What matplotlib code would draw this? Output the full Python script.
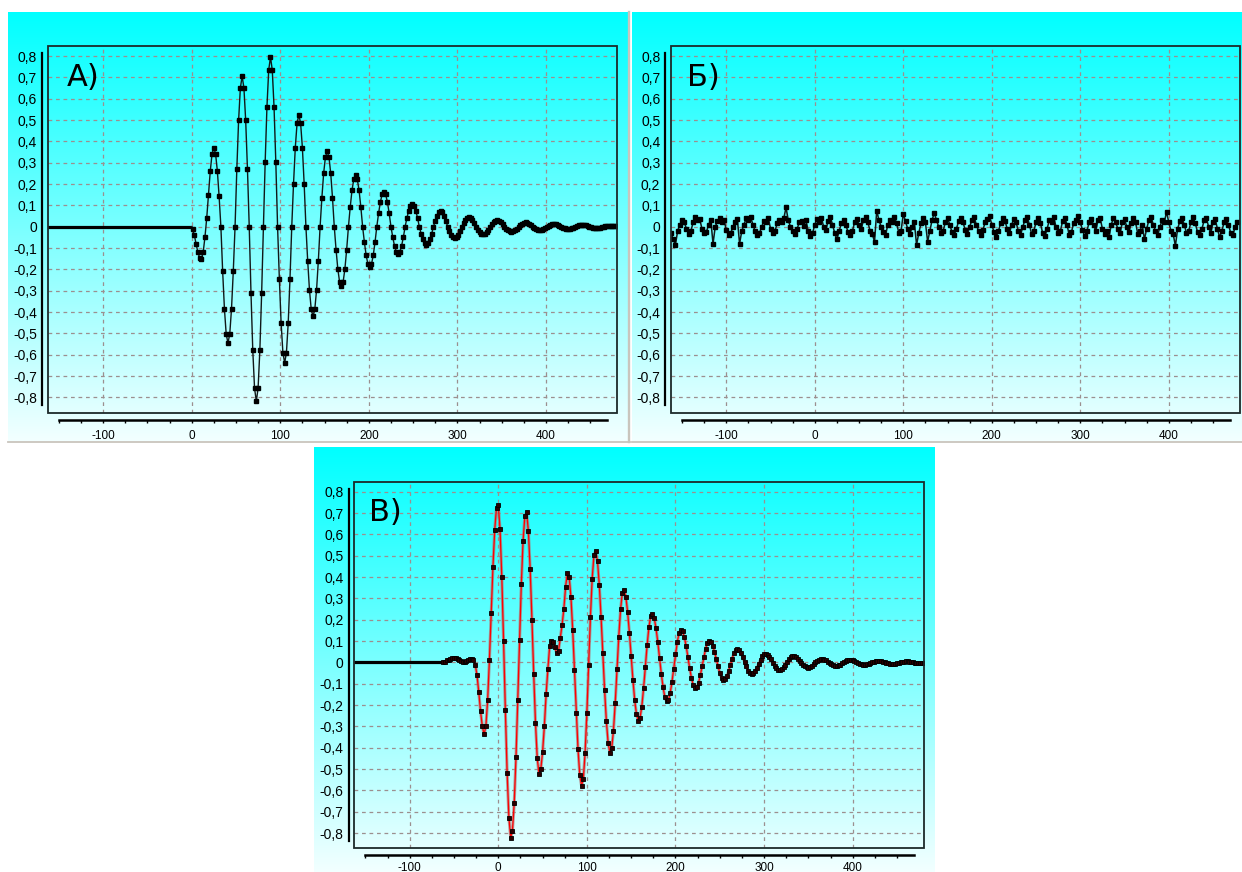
import numpy as np
import matplotlib
matplotlib.use("Agg")
import matplotlib.pyplot as plt
from matplotlib.patches import Rectangle
from matplotlib.lines import Line2D
from matplotlib.ticker import FixedLocator, FuncFormatter

plt.rcParams['axes.unicode_minus'] = False

# ---------------- data ----------------
panel_labels = ["А)", "Б)", "В)"]
y_tick_values = [0.8, 0.7, 0.6, 0.5, 0.4, 0.3, 0.2, 0.1, 0.0,
                 -0.1, -0.2, -0.3, -0.4, -0.5, -0.6, -0.7, -0.8]
x_tick_values = [-100, 0, 100, 200, 300, 400]
x_minor_values = [-150, -125, -75, -50, -25, 25, 50, 75, 125, 150, 175, 225, 250,
                  275, 325, 350, 375, 425, 450]

# Panel A: flat pre-signal part and damped oscillation (samples every 2 units from x=1)
a_flat_x = [-163, 0]
a_flat_y = [0.0, 0.0]
a_x0, a_step = 1, 2
a_y = [
    -0.01, -0.04, -0.08, -0.12, -0.145, -0.15, -0.12, -0.05, 0.04, 0.15,
    0.26, 0.34, 0.37, 0.342, 0.262, 0.142, 0.0, -0.209, -0.385, -0.504,
    -0.545, -0.504, -0.385, -0.209, 0.0, 0.27, 0.498, 0.651, 0.705, 0.651,
    0.498, 0.27, 0.0, -0.313, -0.579, -0.757, -0.819, -0.757, -0.579, -0.313,
    0.0, 0.304, 0.562, 0.735, 0.795, 0.735, 0.562, 0.304, 0.0, -0.245,
    -0.452, -0.59, -0.639, -0.59, -0.452, -0.245, 0.0, 0.201, 0.371, 0.485,
    0.525, 0.485, 0.371, 0.201, 0.0, -0.161, -0.297, -0.388, -0.42, -0.388,
    -0.297, -0.161, 0.0, 0.135, 0.25, 0.326, 0.353, 0.326, 0.25, 0.135,
    0.0, -0.107, -0.198, -0.259, -0.28, -0.259, -0.198, -0.107, 0.0, 0.092,
    0.17, 0.222, 0.24, 0.222, 0.17, 0.092, 0.0, -0.073, -0.134, -0.176,
    -0.19, -0.176, -0.134, -0.073, 0.0, 0.062, 0.115, 0.151, 0.163, 0.151,
    0.115, 0.062, 0.0, -0.049, -0.09, -0.117, -0.127, -0.117, -0.09, -0.049,
    0.0, 0.041, 0.075, 0.098, 0.106, 0.098, 0.075, 0.041, 0.0, -0.032,
    -0.059, -0.078, -0.084, -0.078, -0.059, -0.032, 0.0, 0.028, 0.051, 0.067,
    0.072, 0.067, 0.051, 0.028, 0.0, -0.02, -0.037, -0.049, -0.053, -0.049,
    -0.037, -0.02, 0.0, 0.017, 0.032, 0.042, 0.045, 0.042, 0.032, 0.017,
    0.0, -0.014, -0.025, -0.033, -0.036, -0.033, -0.025, -0.014, 0.0, 0.011,
    0.021, 0.028, 0.03, 0.028, 0.021, 0.011, 0.0, -0.009, -0.017, -0.022,
    -0.024, -0.022, -0.017, -0.009, 0.0, 0.008, 0.014, 0.018, 0.02, 0.018,
    0.014, 0.008, 0.0, -0.006, -0.011, -0.015, -0.016, -0.015, -0.011, -0.006,
    0.0, 0.005, 0.009, 0.012, 0.013, 0.012, 0.009, 0.005, 0.0, -0.004,
    -0.008, -0.01, -0.011, -0.01, -0.008, -0.004, 0.0, 0.003, 0.006, 0.008,
    0.009, 0.008, 0.006, 0.003, 0.0, -0.003, -0.005, -0.006, -0.007, -0.006,
    -0.005, -0.003, 0.0, 0.002, 0.004, 0.005, 0.005, 0.005, 0.004, 0.003,
]

# Panel Б: noise record (samples every 2.5 units from x=-162.5)
b_x0, b_step = -162.5, 2.5
b_y = [
    -0.03, -0.06, -0.085, -0.02, 0.01, 0.03, 0.02, -0.01, -0.035, -0.02,
    0.02, 0.045, 0.03, 0.035, -0.01, -0.03, -0.025, 0.01, 0.03, -0.08,
    0.0, 0.025, 0.04, 0.02, 0.03, -0.015, -0.04, -0.03, 0.0, 0.02,
    0.035, -0.08, -0.02, 0.01, 0.04, 0.03, 0.045, 0.01, -0.02, -0.04,
    -0.03, 0.0, 0.025, 0.02, 0.04, -0.01, -0.03, -0.02, 0.015, 0.03,
    0.02, 0.04, 0.09, 0.03, 0.0, -0.02, -0.035, -0.01, 0.02, 0.025,
    0.005, 0.03, -0.02, -0.045, -0.03, 0.01, 0.035, 0.02, 0.04, 0.0,
    -0.015, 0.025, 0.045, 0.01, -0.03, -0.06, -0.02, 0.015, 0.03, 0.01,
    -0.025, -0.04, -0.02, 0.02, 0.035, 0.01, -0.01, 0.03, 0.045, 0.02,
    -0.02, -0.035, -0.07, 0.075, 0.03, 0.0, -0.025, -0.04, 0.01, 0.03,
    0.02, 0.045, 0.015, -0.03, -0.02, 0.06, 0.025, -0.01, -0.035, 0.0,
    0.02, -0.085, -0.03, 0.015, 0.04, 0.02, -0.07, -0.02, 0.03, 0.065,
    0.03, 0.0, -0.03, -0.02, 0.02, 0.04, 0.01, -0.025, -0.04, -0.01,
    0.025, 0.04, 0.02, -0.015, -0.035, 0.0, 0.03, 0.045, 0.01, -0.02,
    -0.04, -0.015, 0.02, 0.035, 0.05, 0.01, -0.025, -0.05, -0.02, 0.015,
    0.04, 0.025, -0.01, -0.03, 0.01, 0.035, 0.02, -0.02, -0.04, 0.0,
    0.03, 0.045, 0.01, -0.035, -0.02, 0.02, 0.04, 0.015, -0.03, -0.045,
    -0.01, 0.03, 0.02, 0.045, 0.0, -0.03, -0.02, 0.025, 0.04, 0.01,
    -0.04, -0.025, 0.015, 0.03, 0.05, 0.02, -0.015, -0.045, -0.02, 0.02,
    0.035, 0.01, -0.02, 0.03, 0.04, -0.01, -0.035, -0.02, -0.05, 0.01,
    0.04, 0.02, -0.01, -0.03, 0.02, 0.035, 0.0, -0.025, 0.015, 0.04,
    0.02, -0.035, -0.02, 0.01, -0.06, -0.01, 0.03, 0.045, 0.01, -0.02,
    -0.04, 0.0, 0.03, 0.02, 0.07, 0.02, -0.02, -0.035, -0.09, -0.01,
    0.025, 0.04, 0.01, -0.03, -0.02, 0.02, 0.045, 0.015, -0.025, -0.04,
    -0.01, 0.03, 0.04, 0.0, -0.03, 0.02, 0.035, -0.01, -0.05, -0.02,
    0.02, 0.035, 0.01, -0.03, -0.04, 0.0, 0.02,
]

# Panel В: flat part and superposed signal (samples every 2 units from x=-62)
c_flat_x = [-163, -62]
c_flat_y = [0.0, 0.0]
c_x0, c_step = -62, 2
c_y = [
    0.0, 0.004, 0.009, 0.013, 0.016, 0.019, 0.02, 0.02, 0.017, 0.012,
    0.007, 0.004, 0.004, 0.007, 0.012, 0.016, 0.018, 0.01, -0.01, -0.06,
    -0.14, -0.23, -0.30, -0.337, -0.30, -0.177, 0.011, 0.233, 0.448, 0.622,
    0.726, 0.737, 0.624, 0.399, 0.098, -0.225, -0.518, -0.728, -0.821, -0.79,
    -0.659, -0.445, -0.177, 0.105, 0.366, 0.57, 0.686, 0.703, 0.614, 0.438,
    0.201, -0.054, -0.284, -0.45, -0.523, -0.50, -0.42, -0.30, -0.15, -0.03,
    0.075, 0.102, 0.095, 0.07, 0.042, 0.055, 0.115, 0.175, 0.25, 0.355,
    0.42, 0.402, 0.307, 0.152, -0.038, -0.235, -0.407, -0.529, -0.579, -0.546,
    -0.424, -0.235, -0.01, 0.212, 0.393, 0.503, 0.523, 0.473, 0.365, 0.214,
    0.042, -0.129, -0.275, -0.378, -0.423, -0.403, -0.32, -0.19, -0.033, 0.121,
    0.248, 0.325, 0.339, 0.307, 0.236, 0.139, 0.028, -0.083, -0.178, -0.244,
    -0.273, -0.26, -0.207, -0.122, -0.02, 0.081, 0.164, 0.216, 0.227, 0.207,
    0.161, 0.097, 0.022, -0.053, -0.117, -0.163, -0.183, -0.177, -0.145, -0.093,
    -0.029, 0.037, 0.095, 0.136, 0.153, 0.146, 0.119, 0.077, 0.027, -0.027,
    -0.073, -0.106, -0.122, -0.117, -0.096, -0.061, -0.019, 0.025, 0.063, 0.091,
    0.101, 0.097, 0.079, 0.051, 0.017, -0.019, -0.05, -0.072, -0.083, -0.079,
    -0.065, -0.041, -0.012, 0.018, 0.043, 0.059, 0.063, 0.057, 0.044, 0.025,
    0.002, -0.019, -0.039, -0.051, -0.055, -0.051, -0.041, -0.025, -0.006, 0.012,
    0.028, 0.037, 0.04, 0.036, 0.027, 0.014, -0.001, -0.016, -0.027, -0.034,
    -0.036, -0.032, -0.023, -0.011, 0.002, 0.014, 0.024, 0.029, 0.029, 0.025,
    0.018, 0.008, -0.002, -0.012, -0.019, -0.023, -0.024, -0.021, -0.015, -0.008,
    0.0, 0.007, 0.013, 0.016, 0.016, 0.013, 0.009, 0.003, -0.003, -0.009,
    -0.013, -0.016, -0.016, -0.014, -0.01, -0.005, 0.0, 0.005, 0.009, 0.011,
    0.011, 0.009, 0.006, 0.002, -0.002, -0.006, -0.009, -0.011, -0.011, -0.009,
    -0.006, -0.003, 0.001, 0.004, 0.006, 0.008, 0.008, 0.007, 0.004, 0.001,
    -0.002, -0.005, -0.007, -0.008, -0.008, -0.007, -0.005, -0.002, 0.0, 0.002,
    0.004, 0.005, 0.005, 0.004, 0.002, 0.0, -0.001, -0.003, -0.004, -0.004,
    -0.004, -0.003,
]

a_x = a_x0 + a_step * np.arange(len(a_y))
b_x = b_x0 + b_step * np.arange(len(b_y))
c_x = c_x0 + c_step * np.arange(len(c_y))

# ---------------- layout ----------------
W, H, DPI = 1242, 872, 100
fig = plt.figure(figsize=(W / DPI, H / DPI), dpi=DPI)
fig.patch.set_facecolor("white")


def rect(x0, y0, x1, y1):
    return [x0 / W, 1 - y1 / H, (x1 - x0) / W, (y1 - y0) / H]


grad = np.zeros((256, 1, 3))
grad[:, 0, 0] = np.linspace(0.0, 0.95, 256)
grad[:, 0, 1] = 1.0
grad[:, 0, 2] = 1.0

XLIM = (-162.5, 480.5)
YLIM = (-0.872, 0.847)


def yfmt(v, pos):
    if abs(v) < 1e-9:
        return "0"
    return ("%.1f" % v).replace(".", ",")


def make_panel(bg, frame, label, label_dx, xpad=5):
    axb = fig.add_axes(rect(*bg))
    axb.imshow(grad, aspect="auto", extent=[0, 1, 0, 1], origin="upper",
               interpolation="bilinear")
    axb.axis("off")
    axb.set_zorder(0)

    ax = fig.add_axes(rect(*frame))
    ax.set_zorder(1)
    ax.set_facecolor("none")
    ax.set_xlim(*XLIM)
    ax.set_ylim(*YLIM)
    for s in ("top", "right"):
        ax.spines[s].set_visible(False)
    ax.spines["left"].set_position(("outward", 4.1))
    ax.spines["left"].set_bounds(-0.835, 0.812)
    ax.spines["left"].set_linewidth(1.6)
    ax.spines["bottom"].set_position(("outward", 4.9))
    ax.spines["bottom"].set_bounds(-150, 469)
    ax.spines["bottom"].set_linewidth(1.8)
    ax.add_patch(Rectangle((0, 0), 1, 1, transform=ax.transAxes, fill=False,
                           ec="#1c2a2a", lw=1.3, clip_on=False, zorder=6))

    ax.yaxis.set_major_locator(FixedLocator(y_tick_values))
    ax.yaxis.set_major_formatter(FuncFormatter(yfmt))
    ax.xaxis.set_major_locator(FixedLocator(x_tick_values))
    ax.xaxis.set_minor_locator(FixedLocator(x_minor_values))
    ax.tick_params(axis="y", length=0, pad=3.6, labelsize=10)
    ax.tick_params(axis="x", which="both", direction="out", length=2.5,
                   width=1.0, pad=xpad, labelsize=8.5)
    for t in ax.get_yticklabels() + ax.get_xticklabels():
        t.set_fontfamily("Liberation Sans")
    ax.grid(True, which="major", color="#9c8f8f", linestyle=(0, (3, 3)), lw=0.9)
    ax.set_axisbelow(True)
    ax.text(label_dx, 0.955, label, transform=ax.transAxes, fontsize=22,
            ha="left", va="top", family="DejaVu Sans", color="black", zorder=7)
    return ax


axA = make_panel((8, 12, 627.7, 441), (47.7, 46, 617.3, 412.7), panel_labels[0], 0.033)
axB = make_panel((631.7, 12, 1242, 441), (671, 46, 1240, 412.7), panel_labels[1], 0.028)
axC = make_panel((314, 447.3, 935, 872), (354.3, 481.7, 924, 848.4), panel_labels[2], 0.026,
                 xpad=2.2)

# Panel A
axA.plot(a_flat_x, a_flat_y, color="black", lw=2.3, solid_capstyle="butt", zorder=3)
axA.plot(np.r_[0, a_x], np.r_[0, a_y], color="#101818", lw=1.0, zorder=3)
axA.plot(a_x, a_y, ls="none", marker="s", ms=2.4, color="black", zorder=4)

# Panel Б
axB.plot(b_x, b_y, color="#101818", lw=1.1, zorder=3)
axB.plot(b_x, b_y, ls="none", marker="s", ms=2.9, color="black", zorder=4)

# Panel В
axC.plot(c_flat_x, c_flat_y, color="black", lw=2.3, solid_capstyle="butt", zorder=3)
axC.plot(np.r_[-62, c_x], np.r_[0, c_y], color="#b07070", lw=2.2, alpha=0.7, zorder=3)
axC.plot(np.r_[-62, c_x], np.r_[0, c_y], color="red", lw=0.9, zorder=3)
axC.plot(c_x, c_y, ls="none", marker="s", ms=2.3, mfc="#2a0000", mec="black",
         mew=0.6, zorder=4)

# separators between the screenshots
sep = "#c9c5bd"
fig.add_artist(Line2D([628.8 / W, 628.8 / W], [1 - 12 / H, 1 - 442 / H],
                      color=sep, lw=1.7, transform=fig.transFigure))
fig.add_artist(Line2D([8 / W, 629.5 / W], [1 - 441.8 / H, 1 - 441.8 / H],
                      color=sep, lw=1.3, transform=fig.transFigure))
fig.add_artist(Line2D([631.7 / W, 1.0], [1 - 441.8 / H, 1 - 441.8 / H],
                      color=sep, lw=1.3, transform=fig.transFigure))

fig.savefig("out.png", dpi=DPI, facecolor="white")
